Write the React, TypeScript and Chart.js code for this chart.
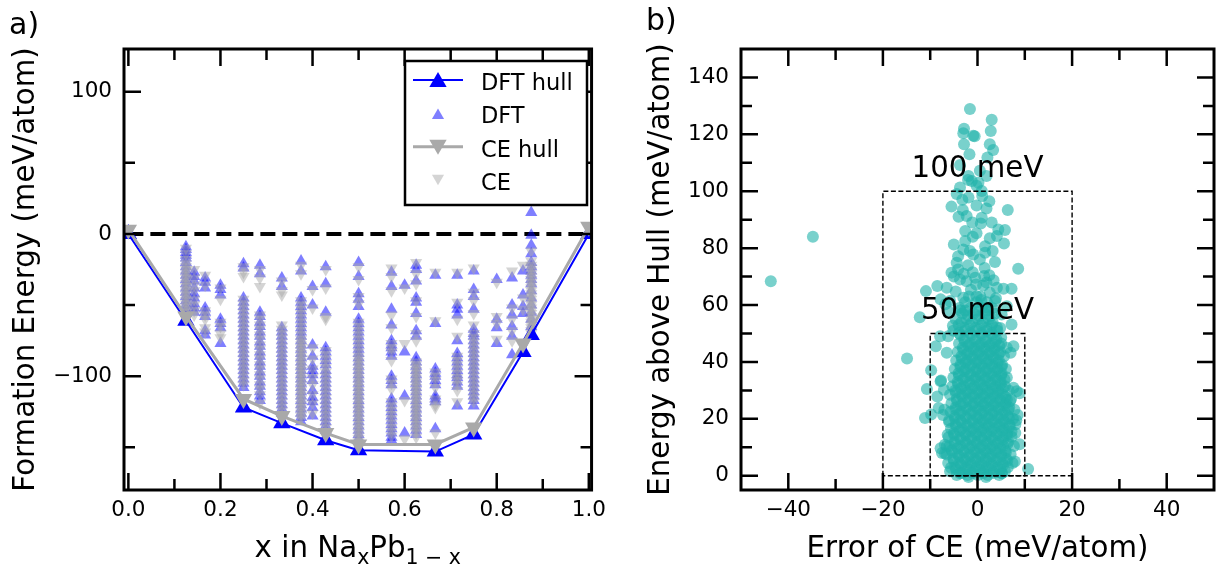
import { useEffect, useRef } from 'react';
import { Chart, registerables } from 'chart.js';

Chart.register(...registerables);

const FONT = '"DejaVu Sans", sans-serif';
const TICK_SIZE = 21.5;
const TITLE_SIZE = 29.3;
const MAJOR_LEN = 17;
const MINOR_LEN = 11;

// ---------------- panel a) data ----------------
const X_VALUES = [0.125, 0.1429, 0.1667, 0.2, 0.25, 0.2857, 0.3333, 0.375, 0.4, 0.4286, 0.5, 0.5714, 0.6, 0.625, 0.6667, 0.7143, 0.75, 0.8, 0.8333, 0.8571, 0.875];

const DFT_BY_X = [
  [-9, -11, -13, -15, -17, -20, -23, -26, -29, -32, -35, -38, -41, -44, -47, -50, -53, -56],
  [-27, -30, -33, -38, -42, -45, -49, -52, -55],
  [-31, -34, -38, -52, -55, -58, -68, -71],
  [-36, -39, -43, -60, -63, -66, -77],
  [-21, -24, -45, -48, -51, -54, -57, -60, -63, -66, -69, -72, -75, -78, -81, -84, -87, -90, -93, -96, -99, -102, -105, -108],
  [-22, -28, -55, -58, -62, -65, -69, -72, -76, -79, -83, -86, -90, -93, -97, -100, -104, -107, -111, -114, -117],
  [-31, -37, -66, -69, -72, -75, -78, -81, -84, -87, -90, -93, -96, -99, -102, -105, -108, -111, -114, -117, -120, -123, -126],
  [-19, -26, -45, -48, -51, -54, -57, -60, -63, -66, -69, -72, -75, -78, -81, -84, -87, -90, -93, -96, -99, -102, -105, -108, -111, -114, -117, -120, -123, -126, -129, -132],
  [-37, -50, -78, -86, -93, -96, -99, -103, -110, -115, -118, -122, -128],
  [-23, -35, -55, -80, -83, -86, -89, -92, -96, -99, -102, -105, -108, -111, -114, -117, -120, -123, -126, -129, -132, -135, -138],
  [-20, -30, -42, -46, -51, -60, -63, -66, -69, -72, -75, -78, -81, -84, -87, -90, -93, -96, -99, -102, -105, -108, -111, -114, -117, -120, -123, -126, -129, -132, -135, -138, -141, -144],
  [-27, -37, -53, -64, -75, -78, -80, -83, -86, -100, -103, -106, -116, -119, -122, -125, -128, -131, -134, -137, -140, -143, -145],
  [-36, -83, -114, -140],
  [-22, -25, -33, -45, -48, -56, -68, -72, -87, -90, -93, -96, -99, -102, -105, -108, -111, -114, -117, -120, -123, -126, -129, -132, -135, -138, -141],
  [-29, -63, -95, -98, -100, -103, -106, -114, -116, -118, -137],
  [-29, -50, -53, -57, -75, -84, -87, -90, -93, -96, -99, -101, -104, -107, -121],
  [-26, -39, -44, -53, -67, -70, -72, -75, -78, -81, -84, -87, -90, -93, -96, -99, -102, -105, -108, -111, -114, -117, -121],
  [-32, -60, -66, -77],
  [-31, -50, -57, -65, -72, -85],
  [-26, -43, -51, -56],
  [15, -1, -8, -14, -20, -23, -26, -29, -32, -35, -40, -45, -50, -55, -60, -65],
];

const CE_BY_X = [
  [-10, -14, -18, -21, -23, -25, -27, -29, -31, -33, -35, -37, -39, -41, -43, -45, -47, -49, -51, -53, -55, -57],
  [-25, -31, -36, -40, -46, -50, -54, -57],
  [-29, -36, -54, -57, -60, -66, -69],
  [-38, -46, -62, -65, -70, -73],
  [-23, -27, -30, -46, -49, -52, -55, -58, -61, -64, -67, -70, -73, -76, -79, -82, -85, -88, -91, -94, -97, -100, -103, -106],
  [-25, -31, -37, -57, -60, -64, -67, -71, -74, -78, -81, -85, -88, -92, -95, -99, -102, -106, -109, -113, -119],
  [-33, -40, -43, -64, -67, -70, -73, -76, -79, -82, -85, -88, -91, -94, -97, -100, -103, -106, -109, -112, -115, -118, -121, -124],
  [-22, -28, -47, -50, -53, -56, -59, -62, -65, -68, -71, -74, -76, -78, -80, -82, -84, -86, -88, -90, -92, -94, -96, -98, -100, -102, -104, -106, -108, -110, -112, -114, -116, -118, -120, -122, -124, -126, -128, -130],
  [-39, -52, -80, -88, -95, -101, -106, -113, -119, -126],
  [-25, -38, -58, -60, -82, -85, -88, -91, -94, -97, -100, -103, -106, -109, -112, -115, -118, -121, -124, -127, -130, -133, -136],
  [-23, -32, -44, -49, -62, -65, -68, -71, -74, -77, -80, -83, -86, -88, -90, -92, -94, -96, -98, -100, -102, -104, -106, -108, -110, -112, -114, -116, -118, -120, -122, -124, -126, -128, -130, -132, -134, -136, -138, -140, -142, -144, -146],
  [-24, -30, -40, -57, -66, -77, -80, -83, -89, -102, -105, -109, -118, -121, -124, -127, -130, -133, -136, -139, -142],
  [-38, -77, -117, -144],
  [-20, -28, -35, -47, -58, -70, -75, -90, -92, -94, -96, -98, -100, -102, -104, -106, -108, -110, -112, -114, -116, -118, -120, -122, -124, -126, -128, -130, -132, -134, -136, -138, -140, -143],
  [-27, -61, -97, -100, -103, -108, -116, -120, -122, -140],
  [-27, -48, -60, -72, -86, -89, -92, -95, -98, -101, -103, -106, -110, -118],
  [-24, -41, -47, -56, -64, -70, -73, -76, -79, -82, -85, -88, -91, -94, -97, -100, -103, -106, -109, -112, -115, -118],
  [-34, -58, -63, -74],
  [-26, -52, -60, -68, -75],
  [-22, -45, -53],
  [-12, -19, -22, -24, -26, -28, -30, -32, -34, -36, -38, -40, -42, -44, -46, -48, -50, -52, -54, -56, -58, -60, -62, -64, -66, -68, -70],
];

const DFT_HULL_X = [0, 0.125, 0.25, 0.3333, 0.4286, 0.5, 0.6667, 0.75, 0.8571, 0.875, 1];
const DFT_HULL_E = [0, -61, -122, -133, -145, -152, -153, -141, -83, -71, 0];
const CE_HULL_X = [0, 0.125, 0.25, 0.3333, 0.4286, 0.5, 0.6667, 0.75, 0.8571, 1];
const CE_HULL_E = [3, -58, -116, -128, -140, -148, -148, -136, -77, 5];

const ZERO_LINE_X = [0, 1];
const ZERO_LINE_Y = [0, 0];

const LEFT_X_TICKS = [0, 0.1, 0.2, 0.3, 0.4, 0.5, 0.6, 0.7, 0.8, 0.9, 1.0];
const LEFT_X_LABELS = ['0.0', '', '0.2', '', '0.4', '', '0.6', '', '0.8', '', '1.0'];
const LEFT_Y_TICKS = [-150, -100, -50, 0, 50, 100];
const LEFT_Y_LABELS = ['', '\u2212100', '', '0', '', '100'];

const LEGEND_LABELS = ['DFT hull', 'DFT', 'CE hull', 'CE'];

// ---------------- panel b) data ----------------
// dense core, row by row: energy above hull of the row, errors of its points
const CORE_ROW_ENERGY = [0.3, 1.6, 3.0, 4.5, 6.0, 7.5, 9.0, 10.5, 12.0, 13.5, 15.0, 16.5, 18.0, 19.5, 21.0, 22.5, 24.0, 25.5, 27.0, 28.5, 30.0, 31.5, 33.0, 34.5, 36.0, 37.5, 39.0, 40.5, 42.0, 43.5, 45.0, 46.5, 48.0, 49.5, 51.0, 53.0, 55.0, 57.0, 59.0, 61.0, 63.0];
const CORE_ROW_ERRORS = [
  [-4.4, -2.1, 0.1, 2.2, 4.6],
  [-5.8, -3.2, -0.8, 1.3, 3.5, 5.8],
  [-4.7, -2.4, -0.2, 2.0, 4.3, 6.4],
  [-6.2, -3.8, -1.5, 0.7, 2.9, 5.2, 7.4],
  [-5.1, -2.8, -0.5, 1.7, 3.9, 6.1],
  [-6.5, -4.1, -1.7, 0.6, 2.8, 5.0, 7.0],
  [-5.4, -3.0, -0.6, 1.6, 3.7, 5.9],
  [-5.9, -3.6, -1.2, 1.0, 3.2, 5.4, 7.7],
  [-4.8, -2.5, -0.1, 2.1, 4.4, 6.5],
  [-6.1, -3.7, -1.4, 0.8, 3.0, 5.3],
  [-5.0, -2.6, -0.3, 1.9, 4.1, 6.3, 8.0],
  [-5.6, -3.3, -0.9, 1.3, 3.5, 5.6],
  [-4.6, -2.2, 0.2, 2.4, 4.7, 6.8],
  [-6.0, -3.6, -1.1, 1.1, 3.3, 5.5, 8.2],
  [-4.9, -2.6, -0.2, 2.0, 4.2, 6.4],
  [-5.7, -3.4, -1.0, 1.2, 3.4, 5.7],
  [-4.6, -2.3, 0.1, 2.3, 4.5, 6.7],
  [-5.5, -3.1, -0.7, 1.5, 3.7, 5.9],
  [-4.4, -2.0, 0.3, 2.6, 4.8, 7.1],
  [-5.8, -3.4, -1.1, 1.1, 3.3, 5.4],
  [-4.7, -2.4, 0.0, 2.2, 4.4, 6.6],
  [-5.3, -2.9, -0.6, 1.6, 3.8, 5.8],
  [-4.2, -1.8, 0.5, 2.7, 4.9],
  [-5.1, -2.7, -0.4, 1.8, 4.0, 6.2],
  [-4.0, -1.6, 0.7, 2.9, 5.1],
  [-4.8, -2.5, -0.2, 2.0, 4.2, 6.0],
  [-3.6, -1.3, 0.9, 3.1, 5.2],
  [-4.5, -2.2, 0.1, 2.3, 4.5],
  [-3.4, -1.0, 1.2, 3.4, 5.6],
  [-4.2, -1.9, 0.3, 2.6, 4.8],
  [-3.1, -0.7, 1.5, 3.7],
  [-3.9, -1.6, 0.7, 2.9, 5.0],
  [-2.8, -0.4, 1.8, 4.0],
  [-3.6, -1.3, 0.9, 3.1],
  [-5.1, -2.7, -0.4, 1.9, 4.2],
  [-4.0, -1.6, 0.8, 3.0],
  [-4.6, -2.3, 0.1, 2.4],
  [-3.2, -0.8, 1.5, 3.7],
  [-3.8, -1.5, 0.9, 3.1],
  [-2.6, -0.2, 2.0],
  [-1.8, 0.6],
];
// second, interleaved layer of the dense core
const CORE_MID_ENERGY = [1.0, 2.3, 3.8, 5.3, 6.8, 8.3, 9.8, 11.3, 12.8, 14.3, 15.8, 17.3, 18.8, 20.3, 21.8, 23.3, 24.8, 26.3, 27.8, 29.3, 30.8, 32.3, 33.8, 35.3, 36.8, 38.3, 39.8, 41.3, 42.8, 44.3, 45.8, 47.3, 50.2, 52.1, 54.0, 56.2, 58.1];
const CORE_MID_ERRORS = [
  [-3.3, -1.0, 1.2, 3.4, 5.2],
  [-4.5, -2.0, 0.4, 2.6, 4.8],
  [-3.5, -1.3, 0.9, 3.1, 5.4],
  [-5.0, -2.6, -0.4, 1.8, 4.0, 6.3],
  [-3.9, -1.6, 0.6, 2.8, 5.0],
  [-5.3, -2.9, -0.6, 1.7, 3.9, 6.0],
  [-4.2, -1.8, 0.5, 2.7, 4.8],
  [-4.8, -2.4, -0.1, 2.1, 4.3, 6.4],
  [-3.6, -1.3, 1.0, 3.2, 5.4],
  [-4.9, -2.5, -0.3, 1.9, 4.1, 6.2],
  [-3.8, -1.5, 0.8, 3.0, 5.2],
  [-4.5, -2.1, 0.2, 2.4, 4.6, 6.8],
  [-3.4, -1.0, 1.3, 3.5, 5.7],
  [-4.8, -2.4, 0.0, 2.2, 4.4, 6.6],
  [-3.7, -1.4, 0.9, 3.1, 5.3],
  [-4.6, -2.2, 0.1, 2.3, 4.5, 6.5],
  [-3.5, -1.1, 1.2, 3.4, 5.6],
  [-4.3, -1.9, 0.4, 2.6, 4.8, 6.9],
  [-3.2, -0.9, 1.4, 3.6, 5.9],
  [-4.6, -2.3, 0.0, 2.2, 4.3],
  [-3.5, -1.2, 1.1, 3.3, 5.3],
  [-4.1, -1.7, 0.5, 2.7, 4.9],
  [-3.0, -0.6, 1.6, 3.8, 5.7],
  [-3.9, -1.5, 0.7, 2.9, 5.0],
  [-2.8, -0.4, 1.8, 4.0],
  [-3.6, -1.4, 0.9, 3.1, 5.1],
  [-2.5, -0.2, 2.0, 4.2],
  [-3.3, -1.1, 1.2, 3.4],
  [-2.2, 0.1, 2.3, 4.5],
  [-3.0, -0.8, 1.4, 3.6],
  [-1.9, 0.4, 2.6, 4.6],
  [-2.7, -0.5, 1.7, 3.8],
  [-3.9, -1.5, 0.8, 3.0],
  [-2.8, -0.4, 1.9, 4.1],
  [-3.4, -1.1, 1.2, 3.2],
  [-2.0, 0.3, 2.6],
  [-2.6, -0.3, 1.9],
];

// scattered points
const SPARSE_ERROR = [
  -43.7, -34.8, -14.9,
  -1.6, 3.0, -2.85, -3.0, -0.9, -0.6, 2.8, -2.85, 2.6, 3.3, -1.7, 2.1, -3.7, 0.5, 1.9, -1.9, -1.2,
  -3.7, -0.2, 0.9, -4.4, -1.9, 1.0, -5.5, -3.1, -0.2, 1.9, 6.4, -2.3, 0.9, -1.1, 0.7, 4.4, 5.8,
  -2.6, -0.2, 4.1, 5.6, -5.0, -2.6, 1.6, -1.6, -0.9, 1.6, -4.1, 0.5, 3.7, -4.4, 8.6, -5.5, -4.1,
  -5.0, -3.7, -10.9, -8.5, -6.5, -2.3, -0.5, 1.9, 4.1, 5.5, 7.2, -12.2, -7.8, -5.8, -3.0, -0.2,
  2.6, 3.7, 6.2, 5.1, 7.2, -9.8, -10.7, -11.1, -9.8, -6.9, 7.9, 10.7, -8.8, -6.5, 6.2, 7.6, 7.0,
  -7.9, -6.2, -7.8, -8.5, -7.1, 7.6, 8.3, 6.2, 7.8, -7.0, -8.2, 8.5, 7.2, -6.3, -7.8, -6.9, 8.9,
  7.5, 8.0, 8.9, 7.2, -6.5, -7.5, -6.0, -7.7, -7.3, -5.6, -3.7, 5.1, -1.9, 1.8,
  -2.0, 0.2, -3.2, 2.5, -4.0, 3.0, -1.0, 2.6, -3.0, 3.2, -2.0, 1.5, -1.0, 2.5,
  -6.8, -4.6, 1.2, 3.4, -1.4, 0.8, -3.6, 2.1, -5.2, 4.8, -0.3, -2.9, 1.4, 3.9, -6.0, 5.0,
];
const SPARSE_ENERGY = [
  68.4, 84.0, 41.2,
  128.9, 125.1, 122.0, 120.4, 119.5, 119.3, 121.2, 116.5, 116.5, 114.5, 113.0, 111.9, 109.2, 107.2, 105.4, 105.4, 103.6,
  101.3, 101.9, 100.1, 99.0, 97.8, 98.3, 94.6, 93.4, 95.0, 93.9, 93.4, 91.3, 90.7, 89.0, 88.7, 86.6, 86.4,
  86.0, 85.2, 84.3, 81.6, 81.3, 82.5, 80.7, 79.0, 77.8, 78.4, 77.2, 76.0, 75.1, 74.9, 72.8, 71.4, 72.5,
  70.0, 69.0, 64.9, 66.7, 66.1, 68.4, 69.6, 67.9, 66.1, 65.7, 65.7, 55.7, 62.0, 61.4, 62.6, 63.1,
  64.3, 61.4, 59.6, 56.7, 53.2, 37.1, 30.5, 20.3, 21.5, 10.9, 5.0, 2.4, 45.5, 43.2, 45.0, 45.5, 43.2,
  49.0, 49.0, 33.2, 27.9, 30.2, 30.9, 29.7, 26.7, 23.2, 23.2, 23.8, 21.4, 15.6, 14.4, 9.7, 7.9, 29.0,
  20.0, 18.0, 11.1, 13.7, 10.5, 8.0, 18.9, 33.5, 21.4, 2.8, 0.9, 0.9, -0.4, -0.4,
  104.0, 103.0, 97.0, 96.5, 91.0, 89.0, 84.0, 83.5, 79.5, 79.0, 74.0, 73.0, 71.5, 70.5,
  60.3, 64.8, 66.9, 68.7, 65.4, 61.8, 58.2, 59.1, 52.7, 51.9, 67.2, 71.0, 70.2, 62.4, 57.6, 48.6,
];

const RECT_100_X = [-20, -20, 20, 20, -20];
const RECT_100_Y = [0, 100, 100, 0, 0];
const RECT_50_X = [-10, -10, 10, 10, -10];
const RECT_50_Y = [0, 50, 50, 0, 0];

const RIGHT_X_TICKS = [-40, -30, -20, -10, 0, 10, 20, 30, 40];
const RIGHT_X_LABELS = ['\u221240', '', '\u221220', '', '0', '', '20', '', '40'];
const RIGHT_Y_TICKS = [0, 10, 20, 30, 40, 50, 60, 70, 80, 90, 100, 110, 120, 130, 140];
const RIGHT_Y_LABELS = ['0', '', '20', '', '40', '', '60', '', '80', '', '100', '', '120', '', '140'];

// ---------------- helpers ----------------
const pairs = (xs: number[], ys: number[]) => xs.map((x, i) => ({ x, y: ys[i] }));
const rows = (ys: number[], xsByRow: number[][]) => ys.flatMap((y, i) => xsByRow[i].map((x) => ({ x, y })));

function triangle(ctx: CanvasRenderingContext2D, x: number, y: number, r: number, down: boolean) {
  let ang = down ? Math.PI : 0;
  ctx.beginPath();
  for (let k = 0; k < 3; k++) {
    const px = x + Math.sin(ang) * r;
    const py = y - Math.cos(ang) * r;
    if (k === 0) ctx.moveTo(px, py);
    else ctx.lineTo(px, py);
    ang += (2 * Math.PI) / 3;
  }
  ctx.closePath();
  ctx.fill();
}

function text(ctx: CanvasRenderingContext2D, s: string, x: number, y: number, size: number, align: CanvasTextAlign, rot = 0) {
  ctx.save();
  ctx.translate(x, y);
  if (rot) ctx.rotate(rot);
  ctx.font = `${size}px ${FONT}`;
  ctx.fillStyle = '#000';
  ctx.textAlign = align;
  ctx.textBaseline = 'alphabetic';
  ctx.fillText(s, 0, 0);
  ctx.restore();
}

function decorPlugin(xTicks: number[], xLabels: string[], yTicks: number[], yLabels: string[], extra: (chart: any) => void) {
  return {
    id: 'decor',
    afterDatasetsDraw(chart: any) {
      const { ctx, chartArea: a } = chart;
      const xs = chart.scales.x;
      const ys = chart.scales.y;
      ctx.save();
      ctx.strokeStyle = '#000';
      ctx.lineWidth = 2.5;
      ctx.beginPath();
      xTicks.forEach((v, i) => {
        const len = xLabels[i] ? MAJOR_LEN : MINOR_LEN;
        const p = xs.getPixelForValue(v);
        ctx.moveTo(p, a.bottom);
        ctx.lineTo(p, a.bottom - len);
        ctx.moveTo(p, a.top);
        ctx.lineTo(p, a.top + len);
      });
      yTicks.forEach((v, i) => {
        const len = yLabels[i] ? MAJOR_LEN : MINOR_LEN;
        const p = ys.getPixelForValue(v);
        ctx.moveTo(a.left, p);
        ctx.lineTo(a.left + len, p);
        ctx.moveTo(a.right, p);
        ctx.lineTo(a.right - len, p);
      });
      ctx.stroke();
      ctx.lineWidth = 3;
      ctx.strokeRect(a.left, a.top, a.right - a.left, a.bottom - a.top);
      ctx.restore();
    },
    afterDraw(chart: any) {
      extra(chart);
    },
  };
}

function axisScale(min: number, max: number, ticks: number[], labels: string[], horizontal: boolean, size: number) {
  return {
    type: 'linear',
    position: horizontal ? 'bottom' : 'left',
    min,
    max,
    grid: { display: false, drawTicks: false },
    border: { display: false },
    afterBuildTicks: (scale: any) => {
      scale.ticks = ticks.map((value) => ({ value }));
    },
    afterFit: (scale: any) => {
      if (horizontal) scale.height = size;
      else scale.width = size;
    },
    ticks: {
      autoSkip: false,
      maxRotation: 0,
      minRotation: 0,
      padding: horizontal ? 8 : 12,
      color: '#000',
      font: { family: FONT, size: TICK_SIZE },
      callback: (_v: any, i: number) => labels[i],
    },
  };
}

// ---------------- panel a) ----------------
function leftConfig(): any {
  const dftPoints = X_VALUES.flatMap((x, i) => DFT_BY_X[i].map((y) => ({ x, y })));
  const cePoints = X_VALUES.flatMap((x, i) => CE_BY_X[i].map((y) => ({ x, y })));

  const drawExtras = (chart: any) => {
    const ctx: CanvasRenderingContext2D = chart.ctx;
    const a = chart.chartArea;
    // legend
    const L = 405, T = 61, R = 587, B = 205;
    ctx.save();
    ctx.fillStyle = '#fff';
    ctx.fillRect(L, T, R - L, B - T);
    ctx.strokeStyle = '#000';
    ctx.lineWidth = 2.5;
    ctx.strokeRect(L, T, R - L, B - T);
    const rowY = (i: number) => 80 + i * 33.4;
    ctx.strokeStyle = '#0000ff';
    ctx.lineWidth = 2;
    ctx.beginPath();
    ctx.moveTo(413, rowY(0));
    ctx.lineTo(463, rowY(0));
    ctx.stroke();
    ctx.fillStyle = '#0000ff';
    triangle(ctx, 438, rowY(0) + 2, 10, false);
    ctx.fillStyle = 'rgba(0,0,255,0.5)';
    triangle(ctx, 438, rowY(1) + 2, 7, false);
    ctx.strokeStyle = '#a9a9a9';
    ctx.lineWidth = 3;
    ctx.beginPath();
    ctx.moveTo(413, rowY(2));
    ctx.lineTo(463, rowY(2));
    ctx.stroke();
    ctx.fillStyle = '#a9a9a9';
    triangle(ctx, 438, rowY(2) - 2, 10, true);
    ctx.fillStyle = 'rgba(169,169,169,0.5)';
    triangle(ctx, 438, rowY(3) - 2, 7, true);
    ctx.restore();
    LEGEND_LABELS.forEach((s, i) => text(ctx, s, 481, rowY(i) + 10, 22.5, 'left'));

    // axis titles
    text(ctx, 'Formation Energy (meV/atom)', 34, (a.top + a.bottom) / 2, TITLE_SIZE, 'center', -Math.PI / 2);
    const big = TITLE_SIZE;
    const small = TITLE_SIZE * 0.7;
    const parts = [
      { t: 'x in Na', s: big, dy: 0 },
      { t: 'x', s: small, dy: 6.5 },
      { t: 'Pb', s: big, dy: 0 },
      { t: '1 \u2212 x', s: small, dy: 6.5 },
    ];
    ctx.save();
    let total = 0;
    const widths = parts.map((p) => {
      ctx.font = `${p.s}px ${FONT}`;
      const w = ctx.measureText(p.t).width;
      total += w;
      return w;
    });
    ctx.restore();
    let x = (a.left + a.right) / 2 - total / 2;
    parts.forEach((p, i) => {
      text(ctx, p.t, x, 557 + p.dy, p.s, 'left');
      x += widths[i];
    });
    text(ctx, 'a)', 9, 34, 30, 'left');
  };

  return {
    type: 'scatter',
    data: {
      datasets: [
        {
          label: 'DFT hull',
          data: pairs(DFT_HULL_X, DFT_HULL_E),
          showLine: true,
          borderColor: '#0000ff',
          borderWidth: 2,
          pointStyle: 'triangle',
          pointRadius: 10,
          pointBackgroundColor: '#0000ff',
          pointBorderWidth: 0,
          order: 1,
        },
        {
          label: 'DFT',
          data: dftPoints,
          pointStyle: 'triangle',
          pointRadius: 7,
          pointBackgroundColor: 'rgba(0,0,255,0.5)',
          pointBorderWidth: 0,
          order: 3,
        },
        {
          label: 'CE hull',
          data: pairs(CE_HULL_X, CE_HULL_E),
          showLine: true,
          borderColor: '#a9a9a9',
          borderWidth: 3,
          pointStyle: 'triangle',
          pointRotation: 180,
          pointRadius: 10,
          pointBackgroundColor: '#a9a9a9',
          pointBorderWidth: 0,
          order: 0,
        },
        {
          label: 'CE',
          data: cePoints,
          pointStyle: 'triangle',
          pointRotation: 180,
          pointRadius: 7,
          pointBackgroundColor: 'rgba(169,169,169,0.5)',
          pointBorderWidth: 0,
          order: 2,
        },
        {
          label: 'zero',
          data: pairs(ZERO_LINE_X, ZERO_LINE_Y),
          showLine: true,
          borderColor: '#000',
          borderWidth: 4,
          borderDash: [15, 7],
          pointRadius: 0,
          order: 4,
        },
      ],
    },
    options: {
      responsive: false,
      animation: false,
      devicePixelRatio: 1,
      events: [],
      layout: { padding: { top: 49, right: 17, bottom: 0, left: 0 } },
      plugins: { legend: { display: false }, tooltip: { enabled: false } },
      scales: {
        x: axisScale(-0.0095, 1.006, LEFT_X_TICKS, LEFT_X_LABELS, true, 81),
        y: axisScale(-180, 130, LEFT_Y_TICKS, LEFT_Y_LABELS, false, 124),
      },
    },
    plugins: [decorPlugin(LEFT_X_TICKS, LEFT_X_LABELS, LEFT_Y_TICKS, LEFT_Y_LABELS, drawExtras)],
  };
}

// ---------------- panel b) ----------------
function rightConfig(): any {
  const points = [
    ...pairs(SPARSE_ERROR, SPARSE_ENERGY),
    ...rows(CORE_ROW_ENERGY, CORE_ROW_ERRORS),
    ...rows(CORE_MID_ENERGY, CORE_MID_ERRORS),
  ];

  const drawExtras = (chart: any) => {
    const ctx: CanvasRenderingContext2D = chart.ctx;
    const a = chart.chartArea;
    const xs = chart.scales.x;
    const ys = chart.scales.y;
    text(ctx, '100 meV', xs.getPixelForValue(0), ys.getPixelForValue(105), TITLE_SIZE, 'center');
    text(ctx, '50 meV', xs.getPixelForValue(0), ys.getPixelForValue(55), TITLE_SIZE, 'center');
    text(ctx, 'Energy above Hull (meV/atom)', 55, (a.top + a.bottom) / 2, TITLE_SIZE, 'center', -Math.PI / 2);
    text(ctx, 'Error of CE (meV/atom)', (a.left + a.right) / 2, 557, TITLE_SIZE, 'center');
    text(ctx, 'b)', 32, 30, 30, 'left');
  };

  return {
    type: 'scatter',
    data: {
      datasets: [
        {
          label: 'CE error',
          data: points,
          pointRadius: 6,
          pointBackgroundColor: 'rgba(32,178,170,0.6)',
          pointBorderWidth: 0,
          order: 2,
        },
        {
          label: '100 meV window',
          data: pairs(RECT_100_X, RECT_100_Y),
          showLine: true,
          borderColor: '#000',
          borderWidth: 1.4,
          borderDash: [5, 2.5],
          pointRadius: 0,
          order: 0,
        },
        {
          label: '50 meV window',
          data: pairs(RECT_50_X, RECT_50_Y),
          showLine: true,
          borderColor: '#000',
          borderWidth: 1.4,
          borderDash: [5, 2.5],
          pointRadius: 0,
          order: 0,
        },
      ],
    },
    options: {
      responsive: false,
      animation: false,
      devicePixelRatio: 1,
      events: [],
      layout: { padding: { top: 49, right: 11, bottom: 0, left: 0 } },
      plugins: { legend: { display: false }, tooltip: { enabled: false } },
      scales: {
        x: axisScale(-50, 50, RIGHT_X_TICKS, RIGHT_X_LABELS, true, 81),
        y: axisScale(-5, 150, RIGHT_Y_TICKS, RIGHT_Y_LABELS, false, 127),
      },
    },
    plugins: [decorPlugin(RIGHT_X_TICKS, RIGHT_X_LABELS, RIGHT_Y_TICKS, RIGHT_Y_LABELS, drawExtras)],
  };
}

export default function App() {
  const leftRef = useRef<HTMLCanvasElement>(null);
  const rightRef = useRef<HTMLCanvasElement>(null);

  useEffect(() => {
    const c1 = new Chart(leftRef.current as HTMLCanvasElement, leftConfig());
    const c2 = new Chart(rightRef.current as HTMLCanvasElement, rightConfig());
    return () => {
      c1.destroy();
      c2.destroy();
    };
  }, []);

  return (
    <div style={{ position: 'absolute', left: 0, top: 0, width: 1225, height: 571, background: '#fff' }}>
      <canvas ref={leftRef} width={614} height={571} style={{ position: 'absolute', left: 0, top: 0, width: 614, height: 571 }} />
      <canvas ref={rightRef} width={611} height={571} style={{ position: 'absolute', left: 614, top: 0, width: 611, height: 571 }} />
    </div>
  );
}
